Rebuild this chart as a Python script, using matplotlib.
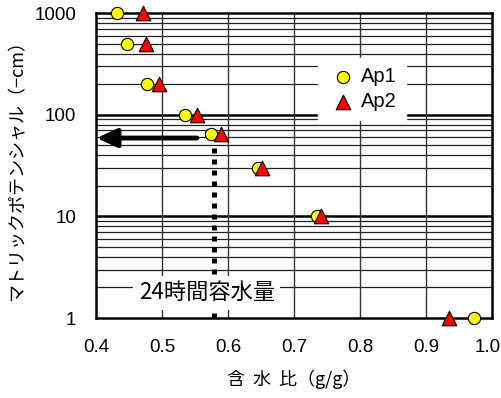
import numpy as np
import matplotlib
matplotlib.use('Agg')
from matplotlib import pyplot as plt
from matplotlib import transforms
from matplotlib.ticker import FixedLocator, NullFormatter

# water content (g/g) vs matric potential (-cm)
ap1_x = [0.432, 0.447, 0.477, 0.535, 0.574, 0.645, 0.735, 0.973]
ap1_y = [1000, 500, 200, 100, 65, 30, 10, 1]
ap2_x = [0.471, 0.476, 0.495, 0.553, 0.590, 0.652, 0.741, 0.935]
ap2_y = [1000, 500, 200, 100, 65, 30, 10, 1]

x_ticks = [0.4, 0.5, 0.6, 0.7, 0.8, 0.9, 1.0]
x_tick_labels = ['0.4', '0.5', '0.6', '0.7', '0.8', '0.9', '1.0']
y_ticks = [1, 10, 100, 1000]
y_tick_labels = ['1', '10', '100', '1000']

# 24h field capacity marker
fc_x = 0.579
fc_y = 59
fc_top = 52
arrow_start = 0.553

jp = ['Noto Sans CJK JP', 'DejaVu Sans']
en = ['Liberation Sans', 'DejaVu Sans']

fig = plt.figure(figsize=(5.02, 3.98), dpi=100)
ax = fig.add_axes([0.191, 0.201, 0.789, 0.766])

ax.set_yscale('log')
ax.set_xlim(0.4, 1.0)
ax.set_ylim(1, 1000)

# grid
minor = [m * 10 ** d for d in range(0, 3) for m in range(2, 10)]
for v in minor:
    ax.axhline(v, color='#222222', lw=0.9, zorder=1)
for v in [10, 100]:
    ax.axhline(v, color='black', lw=1.8, zorder=1)
for v in x_ticks[1:-1]:
    ax.axvline(v, color='#333333', lw=1.0, zorder=1)

for s in ax.spines.values():
    s.set_linewidth(1.8)

ax.set_xticks(x_ticks)
ax.set_xticklabels(x_tick_labels, family=en, fontsize=13.5)
ax.yaxis.set_major_locator(FixedLocator(y_ticks))
ax.yaxis.set_minor_formatter(NullFormatter())
ax.set_yticklabels(y_tick_labels, family=en, fontsize=13.5)
ax.tick_params(which='both', length=0)
ax.tick_params(axis='x', pad=15)
ax.tick_params(axis='y', pad=14)

# keep last x label inside the figure
last = ax.get_xticklabels()[-1]
last.set_transform(last.get_transform() +
                   transforms.ScaledTranslation(-4 / 100, 0, fig.dpi_scale_trans))

# dotted vertical line and arrow
ax.plot([fc_x, fc_x], [1, fc_top], color='black', lw=3.6,
        linestyle=(0, (1, 1.2)), dash_capstyle='butt', zorder=2)
ax.annotate('', xy=(0.401, fc_y), xytext=(arrow_start, fc_y),
            arrowprops=dict(arrowstyle='-|>,head_length=1.2,head_width=0.55',
                            lw=3.5, color='black', shrinkA=0, shrinkB=0),
            zorder=3)

ax.text(0.568, 1.77, '24時間容水量', family=jp, fontsize=16,
        ha='center', va='center', zorder=4,
        bbox=dict(facecolor='white', edgecolor='none', pad=4))

ax.scatter(ap1_x, ap1_y, s=78, marker='o', facecolor='#ffff00',
           edgecolor='black', linewidth=0.8, zorder=5, clip_on=False, label='Ap1')
ax.scatter(ap2_x, ap2_y, s=110, marker='^', facecolor='#ff0000',
           edgecolor='black', linewidth=0.8, zorder=6, clip_on=False, label='Ap2')

leg = ax.legend(loc='upper left', bbox_to_anchor=(0.535, 0.885), frameon=True,
                fancybox=False, framealpha=1, edgecolor='white',
                prop={'family': en, 'size': 14.5}, handletextpad=0.1,
                labelspacing=0.3, borderpad=0.45, handlelength=1.6)
leg.set_zorder(7)

ax.set_xlabel('含  水  比（g/g）', family=jp, fontsize=13, labelpad=10)
ax.set_ylabel('マトリックポテンシャル（−cm）', family=jp, fontsize=13, labelpad=6)

fig.savefig('out.png', dpi=100)
